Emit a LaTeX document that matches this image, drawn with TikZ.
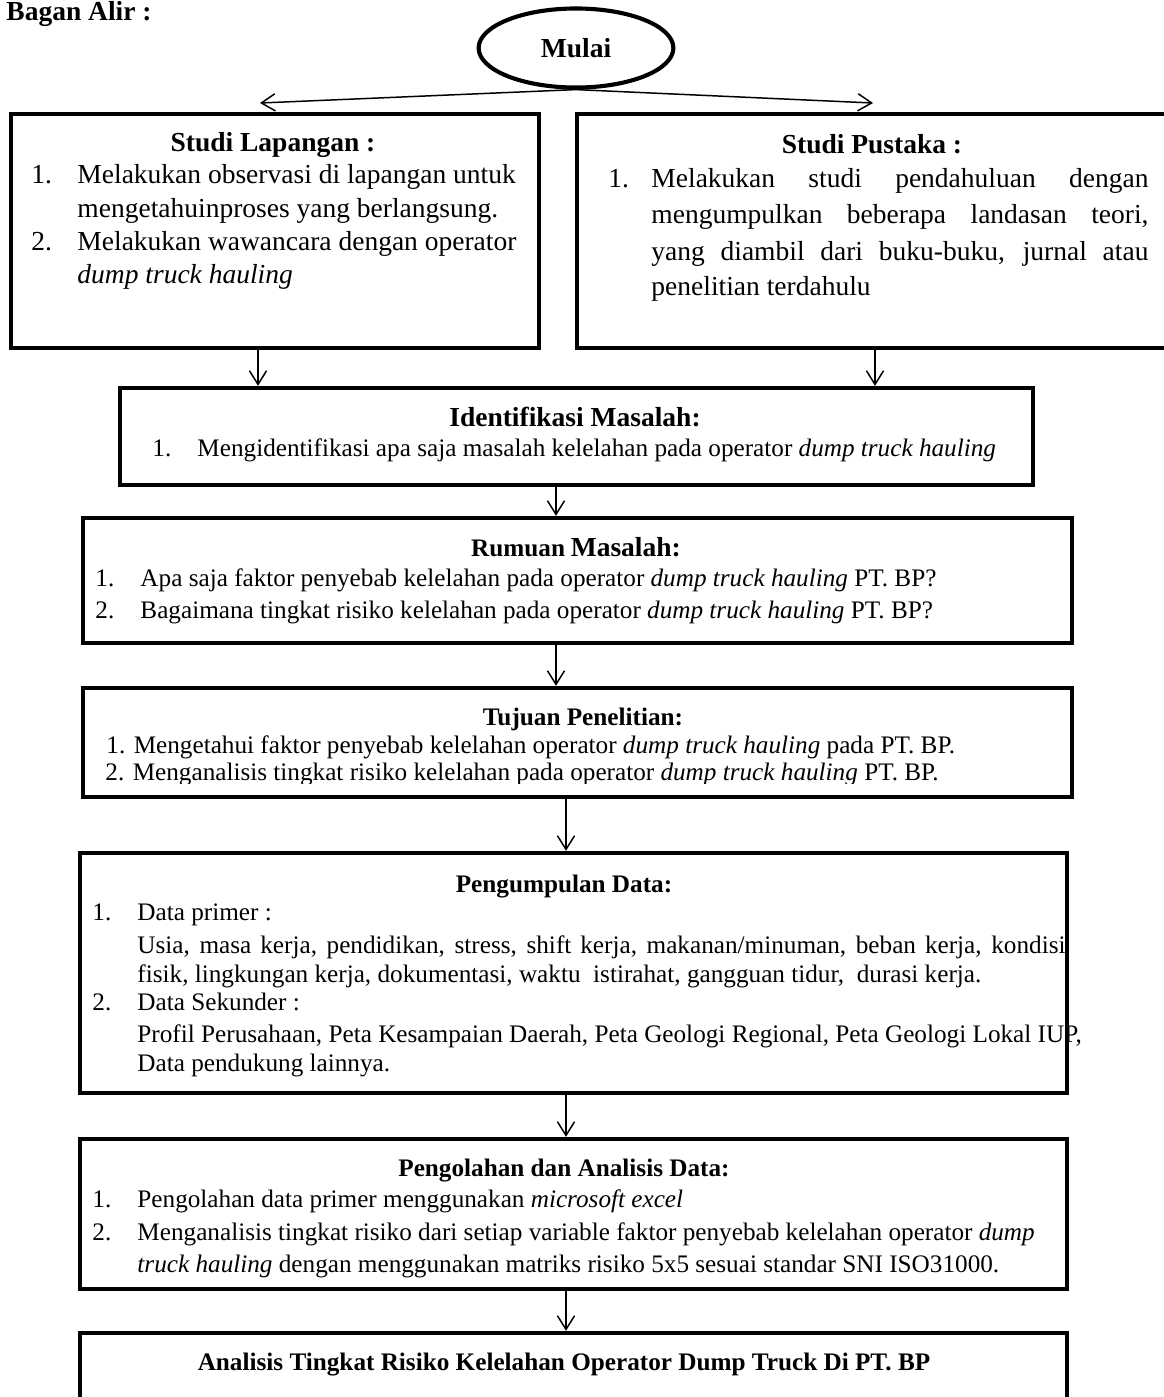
\documentclass[tikz,border=0pt]{standalone}
\usepackage{fontspec}
\setmainfont{Liberation Serif}
\usetikzlibrary{arrows.meta,shapes.geometric,fit}

\begin{document}
\begin{tikzpicture}[x=0.4364pt,y=-0.4364pt,
  box/.style={draw, line width=1.9pt, inner sep=0pt, rectangle},
  arr/.style={line width=0.65pt, -{Straight Barb[length=6pt,width=7.5pt]}},
  tb/.style={inner sep=0pt, anchor=base, font=\fontsize{12}{14}\selectfont\bfseries},
  tbs/.style={inner sep=0pt, anchor=base, font=\fontsize{11}{13}\selectfont\bfseries},
  tl/.style={inner sep=0pt, anchor=base west, font=\fontsize{12}{14}\selectfont},
  ts/.style={inner sep=0pt, anchor=base west, font=\fontsize{11}{13}\selectfont},
]
\useasboundingbox[fill=white] (0,0) rectangle (1164,1397);

% heading
\node[tl, font=\fontsize{12}{14}\selectfont\bfseries] (judul) at (6,20) {Bagan Alir :};

% start
\node[ellipse, draw, line width=1.8pt, minimum width=85pt, minimum height=34.5pt,
      inner sep=0pt, font=\fontsize{12}{14}\selectfont\bfseries] (mulai) at (576,48) {Mulai};

% boxes
\node[box, fit={(11,114) (539,348)}] (lap) {};
\node[box, fit={(577,114) (1168,348)}] (pus) {};
\node[box, fit={(120,388) (1033,485)}] (iden) {};
\node[box, fit={(83,518) (1072,643)}] (rum) {};
\node[box, fit={(83,688) (1072,797)}] (tuj) {};
\node[box, fit={(80,853) (1067,1093)}] (peng) {};
\node[box, fit={(80,1139) (1067,1289)}] (olah) {};
\node[box, fit={(80,1333) (1067,1420)}] (anal) {};

% Studi Lapangan
\node[tb] (lapT) at (273,151) {Studi Lapangan :};
\node[tl] (lapN1) at (31,183) {1.};
\node[tl] (lapL1) at (77,183) {Melakukan observasi di lapangan untuk};
\node[tl] (lapL2) at (77,217) {mengetahuinproses yang berlangsung.};
\node[tl] (lapN2) at (31,250) {2.};
\node[tl] (lapL3) at (77,250) {Melakukan wawancara dengan operator};
\node[tl] (lapL4) at (77,283) {\itshape dump truck hauling};

% Studi Pustaka
\node[tb] (pusT) at (872,153) {Studi Pustaka :};
\node[tl] (pusN1) at (608,187) {1.};
\node[tl] (pusL1) at (651,187) {\makebox[216.9pt][s]{Melakukan studi pendahuluan dengan}};
\node[tl] (pusL2) at (651,223) {\makebox[216.9pt][s]{mengumpulkan beberapa landasan teori,}};
\node[tl] (pusL3) at (651,260) {\makebox[216.9pt][s]{yang diambil dari buku-buku, jurnal atau}};
\node[tl] (pusL4) at (651,295) {penelitian terdahulu};

% Identifikasi
\node[tb] (idenT) at (575,426) {Identifikasi Masalah:};
\node[ts] (idenN1) at (152,456) {1.};
\node[ts] (idenL1) at (197,456) {Mengidentifikasi apa saja masalah kelelahan pada operator \textit{dump truck hauling}};

% Rumuan
\node[inner sep=0pt, anchor=base, font=\bfseries] (rumT) at (576,556)
  {{\fontsize{11}{13}\selectfont Rumuan} {\fontsize{12}{14}\selectfont Masalah:}};
\node[ts] (rumN1) at (95,586) {1.};
\node[ts] (rumL1) at (140,586) {Apa saja faktor penyebab kelelahan pada operator \textit{dump truck hauling} PT. BP?};
\node[ts] (rumN2) at (95,618) {2.};
\node[ts] (rumL2) at (140,618) {Bagaimana tingkat risiko kelelahan pada operator \textit{dump truck hauling} PT. BP?};

% Tujuan
\node[tbs] (tujT) at (583,725) {Tujuan Penelitian:};
\node[ts] (tujL1) at (106,753) {1. Mengetahui faktor penyebab kelelahan operator \textit{dump truck hauling} pada PT. BP.};
\begin{scope}
  \clip (90,760) rectangle (1065,783);
  \node[ts] (tujL2) at (105,780) {2. Menganalisis tingkat risiko kelelahan pada operator \textit{dump truck hauling} PT. BP.};
\end{scope}

% Pengumpulan
\node[tbs] (pengT) at (564,892) {Pengumpulan Data:};
\node[ts] (pengN1) at (92,920) {1.};
\node[ts] (pengL1) at (137,920) {Data primer :};
\node[ts] (pengL2) at (137,953) {\makebox[405pt][s]{Usia, masa kerja, pendidikan, stress, shift kerja, makanan/minuman, beban kerja, kondisi}};
\node[ts] (pengL3) at (137,982) {fisik, lingkungan kerja, dokumentasi, waktu~ istirahat, gangguan tidur,~ durasi kerja.};
\node[ts] (pengN2) at (92,1010) {2.};
\node[ts] (pengL4) at (137,1010) {Data Sekunder :};
\node[ts] (pengL5) at (137,1042) {Profil Perusahaan, Peta Kesampaian Daerah, Peta Geologi Regional, Peta Geologi Lokal IUP,};
\node[ts] (pengL6) at (137,1071) {Data pendukung lainnya.};

% Pengolahan
\node[tbs] (olahT) at (564,1176) {Pengolahan dan Analisis Data:};
\node[ts] (olahN1) at (92,1207) {1.};
\node[ts] (olahL1) at (137,1207) {Pengolahan data primer menggunakan \textit{microsoft excel}};
\node[ts] (olahN2) at (92,1240) {2.};
\node[ts] (olahL2) at (137,1240) {Menganalisis tingkat risiko dari setiap variable faktor penyebab kelelahan operator \textit{dump}};
\node[ts] (olahL3) at (137,1272) {\textit{truck hauling} dengan menggunakan matriks risiko 5x5 sesuai standar SNI ISO31000.};

% Analisis
\node[tbs] (analT) at (564,1370) {Analisis Tingkat Risiko Kelelahan Operator Dump Truck Di PT. BP};

% connectors
\coordinate (tipL) at (260,103);
\coordinate (tipR) at (873,103);
\coordinate (xL) at (258,0);
\coordinate (xR) at (875,0);
\coordinate (xM) at (556,0);
\coordinate (xN) at (566,0);
\draw[arr] (mulai.south) -- (tipL);
\draw[arr] (mulai.south) -- (tipR);
\draw[arr] (lap.south -| xL) -- (iden.north -| xL);
\draw[arr] (pus.south -| xR) -- (iden.north -| xR);
\draw[arr] (iden.south -| xM) -- (rum.north -| xM);
\draw[arr] (rum.south -| xM) -- (tuj.north -| xM);
\draw[arr] (tuj.south -| xN) -- (peng.north -| xN);
\draw[arr] (peng.south -| xN) -- (olah.north -| xN);
\draw[arr] (olah.south -| xN) -- (anal.north -| xN);
\end{tikzpicture}
\end{document}
